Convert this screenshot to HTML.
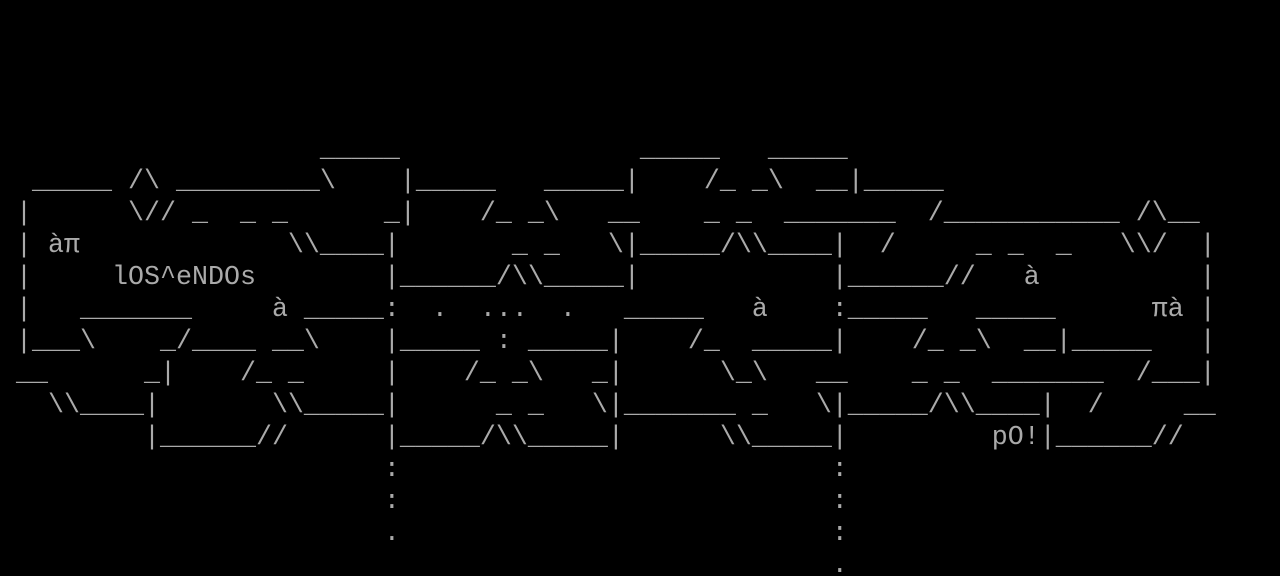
<!DOCTYPE html>
<html><head><meta charset="utf-8"><style>
html,body{margin:0;padding:0;background:#000;width:1280px;height:576px;overflow:hidden}
pre{margin:0;padding:6px 0 0 0;font-family:"Liberation Mono","DejaVu Sans Mono",monospace;font-size:26.667px;line-height:32px;color:#aaaaaa;white-space:pre;letter-spacing:0}
</style></head><body><pre>




                    _____               _____   _____
  _____ /\ _________\    |_____   _____|    /_ _\  __|_____
 |      \// _  _ _      _|    /_ _\   __    _ _  _______  /___________ /\__
 | àπ             \\____|       _ _   \|_____/\\____|  /     _ _  _   \\/  |
 |     lOS^eNDOs        |______/\\_____|            |______//   à          |
 |   _______     à _____:  .  ...  .   _____   à    :_____   _____      πà |
 |___\    _/____ __\    |_____ : _____|    /_  _____|    /_ _\  __|_____   |
 __      _|    /_ _     |    /_ _\   _|      \_\   __    _ _  _______  /___|
   \\____|       \\_____|      _ _   \|_______ _   \|_____/\\____|  /     __
         |______//      |_____/\\_____|      \\_____|         pO!|______//
                        :                           :
                        :                           :
                        .                           :
                                                    .
</pre></body></html>
